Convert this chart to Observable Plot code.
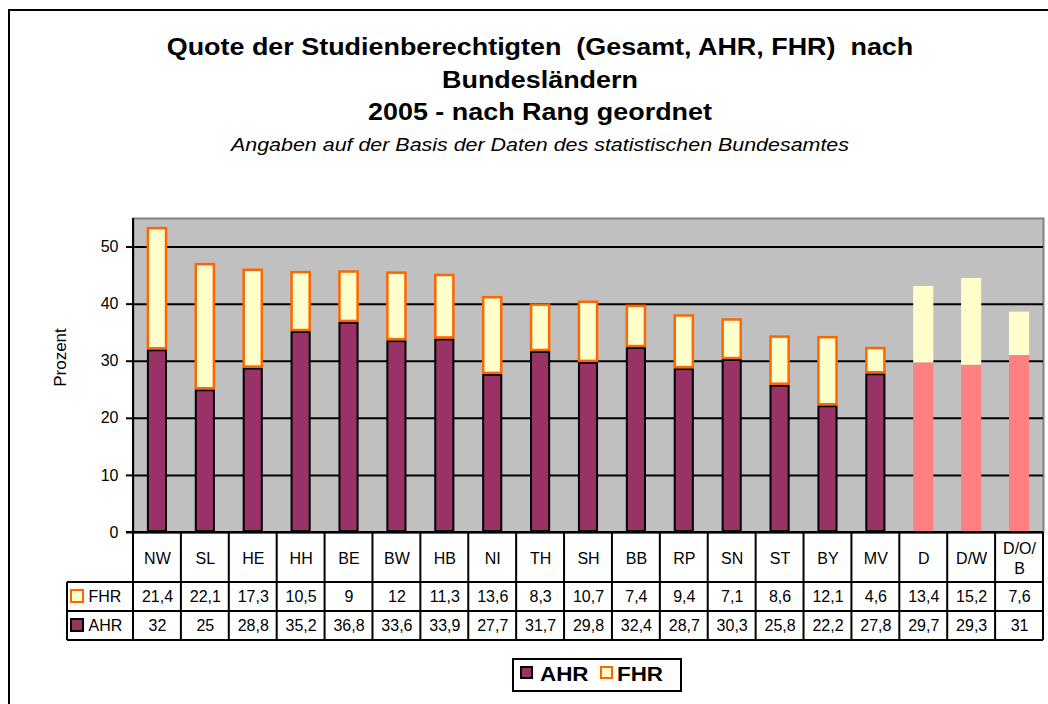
<!DOCTYPE html>
<html>
<head>
<meta charset="utf-8">
<script src="https://cdn.jsdelivr.net/npm/d3@7"></script>
<script src="https://cdn.jsdelivr.net/npm/@observablehq/plot@0.6"></script>
<style>
  html, body { margin: 0; padding: 0; background: #fff; overflow: hidden; }
  body { width: 1048px; height: 704px; position: relative; font-family: "Liberation Sans", Arial, sans-serif; }
  #frame { position: absolute; left: 8px; top: 9px; width: 1200px; height: 900px; border-top: 2px solid #000; border-left: 2px solid #000; box-sizing: border-box; }
  .t { position: absolute; left: 0; width: 1080px; text-align: center; white-space: pre; color: #000; transform-origin: 540px 50%; }
  .b { font-weight: bold; font-size: 23px; transform: scaleX(1.17); }
  .s { font-style: italic; font-size: 18px; transform: scaleX(1.19); }
  #chart { position: absolute; left: 0; top: 200px; }
  #legend { position: absolute; left: 512px; top: 658px; width: 170px; height: 34px; border: 2px solid #000; box-sizing: border-box; }
  #legend .sw { position: absolute; top: 6px; width: 13px; height: 13px; box-sizing: border-box; border: 2px solid #000; }
  #legend .lt { position: absolute; top: 3px; font-weight: bold; font-size: 20px; line-height: 22px; transform: scaleX(1.12); transform-origin: 0 50%; }
</style>
</head>
<body>
<div id="frame"></div>
<div class="t b" style="top:34px">Quote der Studienberechtigten  (Gesamt, AHR, FHR)  nach</div>
<div class="t b" style="top:67px">Bundesländern</div>
<div class="t b" style="top:99px">2005 - nach Rang geordnet</div>
<div class="t s" style="top:135px">Angaben auf der Basis der Daten des statistischen Bundesamtes</div>
<div id="chart"></div>
<div id="legend">
  <span class="sw" style="left:6px;background:#993366;border-color:#000"></span><span class="lt" style="left:26px">AHR</span>
  <span class="sw" style="left:86px;background:#FFFFCC;border-color:#FF6600"></span><span class="lt" style="left:103px">FHR</span>
</div>
<script>
const cats = ["NW","SL","HE","HH","BE","BW","HB","NI","TH","SH","BB","RP","SN","ST","BY","MV","D","D/W","D/O/B"];
const fhr = [21.4,22.1,17.3,10.5,9,12,11.3,13.6,8.3,10.7,7.4,9.4,7.1,8.6,12.1,4.6,13.4,15.2,7.6];
const ahr = [32,25,28.8,35.2,36.8,33.6,33.9,27.7,31.7,29.8,32.4,28.7,30.3,25.8,22.2,27.8,29.7,29.3,31];
const aggregates = ["D","D/W","D/O/B"];
const yTicks = [0,10,20,30,40,50];
const catLabels = {"D/O/B": "D/O/\nB"};

const rows = cats.map((c, i) => ({cat: c, ahr: ahr[i], fhr: fhr[i], total: ahr[i] + fhr[i], agg: aggregates.includes(c)}));
const states = rows.filter(d => !d.agg);
const aggs = rows.filter(d => d.agg);
const fmt = v => String(v).replace(".", ",");

const PAD = 0.58;
const HEAD = 25, FROW = 64, AROW = 93;
const HEAD_B = 50, F_B = 79, A_B = 108;
const LEG_LEFT = 67;

function tableGrid(index, scales, values, dims) {
  const {width, height, marginLeft, marginRight, marginBottom, marginTop} = dims;
  const x = scales.x;
  const step = x(cats[1]) - x(cats[0]);
  const x0 = marginLeft, x1 = width - marginRight;
  const y0 = height - marginBottom;
  const g = d3.create("svg:g");
  const lines = g.append("g").attr("stroke", "#000").attr("stroke-width", 2).attr("fill", "none");
  lines.append("line").attr("x1", x0).attr("x2", x0).attr("y1", marginTop).attr("y2", y0 + A_B);
  cats.forEach((c) => {
    const bx = x(c) + step * (1 - PAD / 2);
    lines.append("line").attr("x1", bx).attr("x2", bx).attr("y1", y0).attr("y2", y0 + A_B);
  });
  lines.append("line").attr("x1", x0 - 7).attr("x2", x1).attr("y1", y0).attr("y2", y0);
  for (const dy of [HEAD_B, F_B, A_B]) {
    lines.append("line").attr("x1", LEG_LEFT).attr("x2", x1).attr("y1", y0 + dy).attr("y2", y0 + dy);
  }
  lines.append("line").attr("x1", LEG_LEFT).attr("x2", LEG_LEFT).attr("y1", y0 + HEAD_B).attr("y2", y0 + A_B);
  g.append("rect").attr("x", 71).attr("y", y0 + FROW - 6).attr("width", 12).attr("height", 12)
    .attr("fill", "#FFFFCC").attr("stroke", "#FF6600").attr("stroke-width", 2);
  g.append("rect").attr("x", 71).attr("y", y0 + AROW - 6).attr("width", 12).attr("height", 12)
    .attr("fill", "#993366").attr("stroke", "#000").attr("stroke-width", 2);
  return g.node();
}

const txt = {fontSize: 16, fill: "#000", lineAnchor: "middle"};

const chart = Plot.plot({
  width: 1048,
  height: 445,
  marginTop: 18,
  marginBottom: 113,
  marginLeft: 133,
  marginRight: 5,
  style: {fontFamily: "'Liberation Sans', Arial, sans-serif", background: "transparent", overflow: "visible"},
  x: {domain: cats, paddingInner: PAD, paddingOuter: PAD / 2, round: false, axis: null},
  y: {domain: [0, 55], axis: null},
  marks: [
    Plot.frame({fill: "#C0C0C0", stroke: "#808080", strokeWidth: 2}),
    Plot.gridY(yTicks, {stroke: "#000", strokeOpacity: 1, strokeWidth: 2}),
    Plot.axisY(yTicks, {tickSize: 7, tickPadding: 8, fontSize: 16, stroke: "#000", strokeWidth: 2, label: null, color: "#000"}),
    Plot.text(["Prozent"], {frameAnchor: "left", textAnchor: "middle", lineAnchor: "middle", dx: -73, dy: -18, rotate: -90, fontSize: 17, fill: "#000"}),
    Plot.barY(states, {x: "cat", y1: 0, y2: "ahr", fill: "#993366", stroke: "#000", strokeWidth: 2, inset: 1}),
    Plot.barY(states, {x: "cat", y1: "ahr", y2: "total", fill: "#FFFFCC", stroke: "#FF6600", strokeWidth: 2.5, inset: 1}),
    Plot.barY(aggs, {x: "cat", y1: 0, y2: "ahr", fill: "#FF8080"}),
    Plot.barY(aggs, {x: "cat", y1: "ahr", y2: "total", fill: "#FFFFCC"}),
    tableGrid,
    Plot.text(cats, {x: d => d, text: d => catLabels[d] ?? d, frameAnchor: "bottom", dy: HEAD, lineHeight: 1.25, ...txt}),
    Plot.text(rows, {x: "cat", text: d => fmt(d.fhr), frameAnchor: "bottom", dy: FROW, ...txt}),
    Plot.text(rows, {x: "cat", text: d => fmt(d.ahr), frameAnchor: "bottom", dy: AROW, ...txt}),
    Plot.text(["FHR"], {frameAnchor: "bottom-left", dx: -45, dy: FROW, textAnchor: "start", ...txt}),
    Plot.text(["AHR"], {frameAnchor: "bottom-left", dx: -45, dy: AROW, textAnchor: "start", ...txt})
  ]
});
document.getElementById("chart").appendChild(chart);
</script>
</body>
</html>
